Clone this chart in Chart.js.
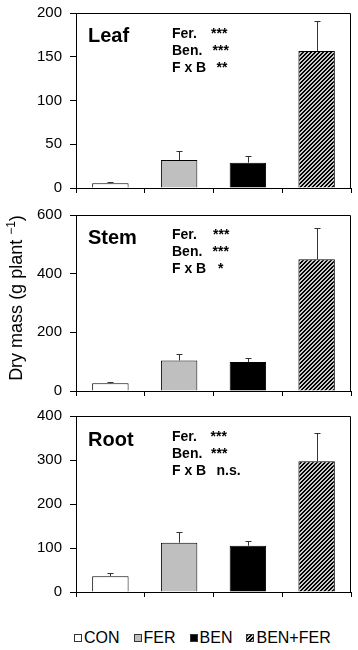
<!DOCTYPE html>
<html><head><meta charset="utf-8">
<script src="https://cdn.jsdelivr.net/npm/chart.js@4"></script>
<style>
body{margin:0;background:#fff;width:358px;height:650px;position:relative;overflow:hidden;font-family:"Liberation Sans",Arial,sans-serif;color:#000;}
canvas{position:absolute;left:0;}
#ytitle{position:absolute;left:-84px;top:288px;width:200px;height:20px;line-height:20px;text-align:center;font-size:18px;white-space:nowrap;transform:rotate(-90deg);}
#ytitle sup{font-size:12px;vertical-align:7px;line-height:0;}
#legend{position:absolute;left:74px;top:629px;height:18px;display:flex;align-items:center;font-size:16px;white-space:nowrap;}
#legend .it{display:flex;align-items:center;margin-right:14px;}
#legend .it:last-child{margin-right:0;}
#legend .sw{width:6px;height:6px;border:1px solid #333;margin-right:2px;}
</style></head><body>
<canvas id="c1" width="358" height="200" style="top:0"></canvas>
<canvas id="c2" width="358" height="200" style="top:200px"></canvas>
<canvas id="c3" width="358" height="210" style="top:400px"></canvas>
<div id="ytitle">Dry mass (g plant <sup>−1</sup>)</div>
<div id="legend"></div>
<script>
const categories = ['CON', 'FER', 'BEN', 'BEN+FER'];

const leafMass = [5.5, 32, 29, 156.5];
const leafErr  = [1.5, 10, 7.5, 34];
const leafTicks = [0, 50, 100, 150, 200];
const leafStats = [['Fer.', '***'], ['Ben.', '***'], ['F x B', '**']];

const stemMass = [26, 104, 99, 449];
const stemErr  = [5, 23, 15, 108];
const stemTicks = [0, 200, 400, 600];
const stemStats = [['Fer.', '***'], ['Ben.', '***'], ['F x B', '*']];

const rootMass = [36, 112, 105, 297];
const rootErr  = [7, 24, 10, 65];
const rootTicks = [0, 100, 200, 300, 400];
const rootStats = [['Fer.', '***'], ['Ben.', '***'], ['F x B', 'n.s.']];

const FONT = '"Liberation Sans", Arial, sans-serif';

function hatch() {
  const t = document.createElement('canvas');
  t.width = 4; t.height = 4;
  const c = t.getContext('2d');
  for (let x = 0; x < 4; x++) {
    for (let y = 0; y < 4; y++) {
      c.fillStyle = ((x + y) % 4 < 2) ? '#c8c8c8' : '#000000';
      c.fillRect(x, y, 1, 1);
    }
  }
  return document.createElement('canvas').getContext('2d').createPattern(t, 'repeat');
}
const hatchPattern = hatch();
const barColors = ['#ffffff', '#bfbfbf', '#000000', hatchPattern];

function makePanel(id, name, values, errors, ticks, stats, L) {
  const errorBars = {
    id: 'errorBars',
    afterDatasetsDraw(chart) {
      const meta = chart.getDatasetMeta(0);
      const ys = chart.scales.y;
      const ctx = chart.ctx;
      ctx.save();
      ctx.strokeStyle = '#333'; ctx.lineWidth = 1;
      meta.data.forEach((bar, i) => {
        const v = values[i], e = errors[i];
        const yTop = Math.round(ys.getPixelForValue(v + e)) + 0.5;
        const x = Math.round(bar.x) + 0.5;
        ctx.beginPath();
        ctx.moveTo(x, bar.y); ctx.lineTo(x, yTop);
        ctx.moveTo(x - 3, yTop); ctx.lineTo(x + 3, yTop);
        ctx.stroke();
      });
      ctx.restore();
    }
  };
  const frame = {
    id: 'frame',
    afterDraw(chart) {
      const a = chart.chartArea, ctx = chart.ctx;
      ctx.save();
      ctx.strokeStyle = '#000'; ctx.lineWidth = 1;
      const t = Math.round(a.top) + 0.5, r = Math.round(a.right) - 0.5;
      ctx.beginPath();
      ctx.moveTo(Math.round(a.left), t); ctx.lineTo(r, t); ctx.lineTo(r, Math.round(a.bottom));
      ctx.stroke();
      ctx.fillStyle = '#000';
      ctx.textBaseline = 'alphabetic';
      ctx.font = 'bold 20px ' + FONT;
      ctx.fillText(name, a.left + L.nameDx, a.top + L.nameDy);
      ctx.font = 'bold 14px ' + FONT;
      stats.forEach((s, i) => {
        const y = a.top + L.statDy[i];
        ctx.fillText(s[0], a.left + 96, y);
        ctx.fillText(s[1], a.left + L.markDx[i], y);
      });
      ctx.restore();
    }
  };
  return new Chart(document.getElementById(id), {
    type: 'bar',
    data: {
      labels: categories,
      datasets: [{
        data: values,
        backgroundColor: barColors,
        borderColor: '#000',
        borderWidth: 1,
        barPercentage: 0.53,
        categoryPercentage: 1
      }]
    },
    options: {
      responsive: false,
      animation: false,
      devicePixelRatio: 1,
      layout: { padding: { top: L.top, right: 7, left: 0, bottom: 0 } },
      plugins: { legend: { display: false }, tooltip: { enabled: false } },
      scales: {
        x: {
          offset: true,
          grid: { offset: true, drawOnChartArea: false, drawTicks: true, tickLength: 5, color: '#000' },
          border: { display: true, color: '#000', width: 1 },
          ticks: { display: false },
          afterFit: s => { s.height = L.xh; s.paddingLeft = 0; s.paddingRight = 0; }
        },
        y: {
          min: ticks[0],
          max: ticks[ticks.length - 1],
          afterBuildTicks: s => { s.ticks = ticks.map(v => ({ value: v })); },
          grid: { drawOnChartArea: false, drawTicks: true, tickLength: 6, color: '#000' },
          border: { display: true, color: '#000', width: 1 },
          ticks: { padding: 8, color: '#000', font: { family: FONT, size: 15 } },
          afterFit: s => { s.width = 76; s.paddingTop = 0; s.paddingBottom = 0; }
        }
      }
    },
    plugins: [errorBars, frame]
  });
}

makePanel('c1', 'Leaf', leafMass, leafErr, leafTicks, leafStats,
  { top: 13, xh: 12, nameDx: 12, nameDy: 29, statDy: [25, 42, 59], markDx: [135, 136.5, 140.5] });
makePanel('c2', 'Stem', stemMass, stemErr, stemTicks, stemStats,
  { top: 15, xh: 9, nameDx: 12, nameDy: 29, statDy: [24, 41, 58], markDx: [137, 136.5, 142] });
makePanel('c3', 'Root', rootMass, rootErr, rootTicks, rootStats,
  { top: 16, xh: 18, nameDx: 12, nameDy: 30, statDy: [25, 42, 59], markDx: [134.5, 135, 140.5] });

// legend
const legendEl = document.getElementById('legend');
const swatchCss = ['#ffffff', '#bfbfbf', '#000000',
  'repeating-linear-gradient(135deg,#000 0 1.4px,#c4c4c4 1.4px 2.8px)'];
categories.forEach((c, i) => {
  const it = document.createElement('span'); it.className = 'it';
  const sw = document.createElement('span'); sw.className = 'sw';
  sw.style.background = swatchCss[i];
  const tx = document.createElement('span'); tx.textContent = c;
  it.appendChild(sw); it.appendChild(tx); legendEl.appendChild(it);
});
</script>
</body></html>
